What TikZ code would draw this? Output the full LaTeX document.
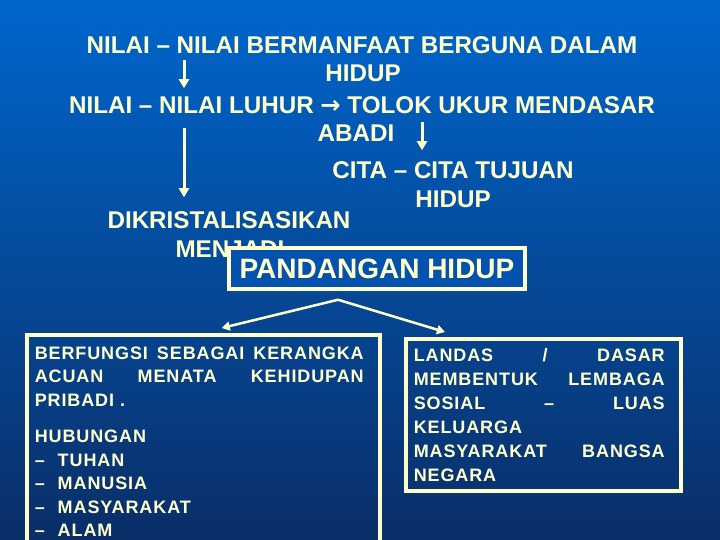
\documentclass[tikz,border=0pt]{standalone}
\usepackage{fontspec}
\setmainfont{Liberation Sans}
\newfontfamily\arrowfont{DejaVu Sans}
\newfontfamily\boxfont[LetterSpace=5.0]{Liberation Sans}
\usetikzlibrary{positioning,arrows.meta}
\definecolor{slideTopColor}{RGB}{0, 102, 204}
\definecolor{slideMidColor}{RGB}{0, 88, 184}
\definecolor{slideBottomColor}{RGB}{10, 46, 104}
\definecolor{boxFillColor}{RGB}{4, 82, 174}
\definecolor{creamColor}{RGB}{255, 255, 204}

\begin{document}
\begin{tikzpicture}[x=1pt,y=-1pt,
		% Define styles for nodes
		linetext/.style={
				text=creamColor,
				inner sep=3pt,
				font=\fontsize{24.2}{28}\selectfont\bfseries
			},
		titlebox/.style={
				draw=creamColor,
				rectangle,
				line width=3.5pt,
				fill=boxFillColor,
				minimum width=296pt,
				minimum height=41pt,
				text=creamColor,
				font=\fontsize{28}{32}\selectfont\bfseries
			},
		infobox/.style={
				draw=creamColor,
				rectangle,
				line width=3.5pt,
				anchor=north west,
				align=left,
				inner xsep=8pt,
				text=creamColor,
				font=\boxfont\fontsize{18}{23.5}\selectfont\bfseries
			},
		arrow/.style={
				-{Triangle[width=10pt,length=9pt]},
				line width=3pt,
				draw=creamColor
			},
		splitarrow/.style={
				-{Triangle[width=9pt,length=8pt]},
				line width=2.5pt,
				draw=creamColor
			}
	]

	% Slide background
	\useasboundingbox (0,0) rectangle (720,540);
	\shade[top color=slideTopColor, middle color=slideMidColor, bottom color=slideBottomColor]
		(0,0) rectangle (720,540);

	% Columns of the down arrows
	\coordinate (leftcol) at (184,0);
	\coordinate (rightcol) at (422,0);

	% Upper text lines
	\node[linetext] (manfaat) at (362,45) {NILAI – NILAI BERMANFAAT BERGUNA DALAM};
	\node[linetext] (manfaathidup) at (363,73) {HIDUP};
	\node[linetext] (luhur) at (362,105) {NILAI – NILAI LUHUR {\arrowfont\bfseries →} TOLOK UKUR MENDASAR};
	\node[linetext] (abadi) at (356,133) {ABADI};
	\node[linetext] (cita) at (453,170) {CITA – CITA TUJUAN};
	\node[linetext] (citahidup) at (453,199) {HIDUP};
	\node[linetext] (kristal) at (229,220) {DIKRISTALISASIKAN};
	\node[linetext] (menjadi) at (230,249) {MENJADI};

	% Main box
	\node[titlebox] (pandangan) at (377,268.5) {PANDANGAN HIDUP};

	% Lower boxes
	\node[infobox, text width=337pt, inner ysep=12pt] (kerangka) at (25,333) {
		\makebox[329pt][s]{BERFUNGSI\hfill SEBAGAI\hfill KERANGKA}\\
		\makebox[329pt][s]{ACUAN\hfill MENATA\hfill KEHIDUPAN}\\
		PRIBADI .\\[13pt]
		HUBUNGAN\\
		\makebox[23pt][l]{–}TUHAN\\
		\makebox[23pt][l]{–}MANUSIA\\
		\makebox[23pt][l]{–}MASYARAKAT\\
		\makebox[23pt][l]{–}ALAM
	};
	\node[infobox, text width=259pt, inner ysep=9.5pt,
		font=\boxfont\fontsize{18}{24}\selectfont\bfseries] (landas) at (404,337) {
		\makebox[251pt][s]{LANDAS\hfill /\hfill DASAR}\\
		\makebox[251pt][s]{MEMBENTUK\hfill LEMBAGA}\\
		\makebox[251pt][s]{SOSIAL\hfill –\hfill LUAS}\\
		KELUARGA\\
		\makebox[251pt][s]{MASYARAKAT\hfill BANGSA}\\
		NEGARA
	};

	% ARROWS
	\draw[arrow, shorten <=3pt, shorten >=5pt] (leftcol |- manfaat.south) -- (leftcol |- luhur.north);
	\draw[arrow, shorten <=11pt, shorten >=11pt] (leftcol |- luhur.south) -- (leftcol |- kristal.north);
	\draw[arrow, shorten <=5pt, shorten >=8pt] (rightcol |- luhur.south) -- (rightcol |- cita.north);

	% Split below the main box
	\coordinate (split) at ([xshift=-39pt,yshift=-9pt]pandangan.south);
	\draw[splitarrow] (split) -- ([xshift=18.5pt,yshift=5pt]kerangka.north);
	\draw[splitarrow] (split) -- ([xshift=41pt,yshift=5pt]landas.north west);

\end{tikzpicture}
\end{document}
